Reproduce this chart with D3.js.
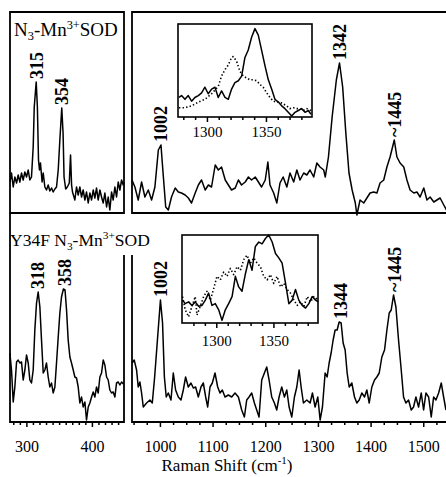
<!DOCTYPE html>
<html>
<head>
<script src="https://d3js.org/d3.v7.min.js"></script>
<style>
  body { margin: 0; background: #fff; }
  text { font-family: "Liberation Serif", "Times New Roman", serif; fill: #000; }
</style>
</head>
<body>
<svg id="chart"></svg>
<script>
// N3-Mn3+SOD, low frequency window
const wtLowShift = [275,277.3,279.9,282.4,285,287.5,290,292.6,295.1,297.7,300.2,302.8,305.3,307.8,310.4,312,315,316.8,318.5,320,321.5,324,325.7,328.2,330.7,333.3,335.8,338.4,340.9,343.5,346,348.6,351.1,354,356,357.5,360,362.5,365.5,367.4,369,370.4,374,376.5,379.1,381.6,384.2,386.7,389.3,391.8,394.4,396.9,399.5,402,404.5,407.1,409.6,412.2,414.7,417.3,419.8,422.4,424.9,427.4,430,432.5,435.1,437.6,440.2,442.7,445.3,447.8,449];
const wtLowInt   = [31,40,26,36,30,38,31,40,33,41,36,43,33,36,66,106,131,106,53,43,50,31,40,26,23,28,22,25,21,24,26,43,73,105,80,36,24,26,30,58,28,21,13,26,18,26,16,23,13,21,10,20,13,23,15,25,13,23,16,10,20,6,16,3,21,13,26,16,31,23,33,28,30];

// N3-Mn3+SOD, high frequency window
const wtHighShift = [947,952.5,958.8,965.2,971.5,977.9,984.2,990.5,997,1002,1006,1011,1016,1022,1029,1035,1041,1048,1054,1060,1067,1073,1079,1086,1092,1098,1105,1111,1117,1124,1130,1136,1143,1149,1155,1162,1168,1174,1181,1187,1193,1200,1205,1209,1216,1222,1228,1234,1241,1247,1254,1260,1266,1273,1279,1285,1292,1298,1304,1311,1314,1320,1327,1335,1341,1347,1353,1359,1365,1371,1374,1380,1387,1393,1399,1406,1412,1418,1425,1431,1437,1445,1450,1456,1463,1469,1475,1482,1488,1494,1501,1507,1513,1520,1526,1532,1539,1544];
const wtHighInt   = [33,26,13,31,16,23,13,26,63,68,40,6,3,16,25,21,20,18,15,10,20,28,33,23,28,26,48,43,46,33,28,23,25,33,28,31,36,33,36,31,26,33,51,28,20,10,30,36,26,40,31,43,33,40,38,43,36,50,46,43,36,56,96,133,150,126,80,40,23,10,-2,13,10,15,20,21,20,30,33,46,56,73,56,50,46,33,23,20,21,16,25,13,16,11,13,15,8,3];

// Y34F N3-Mn3+SOD, low frequency window
const mutLowShift = [274.8,277.3,279.9,282.4,285,287.5,290,292.6,295.1,297.7,300.2,302.8,305.3,307.8,310.4,312.9,315.5,318,320.6,323.1,325.7,328.2,330.7,333.3,335.8,338.4,340.9,343.5,346,348.6,351.1,353.6,356.5,359,361.3,363.8,366.4,368.9,371.5,374,376.5,379.1,381.6,384.2,386.7,389.3,391.8,394.4,396.9,399.5,402,404.5,407.1,409.6,412.2,414.7,417.3,419.8,422.4,424.9,427.4,430,432.5,435.1,437.6,440.2,442.7,445.3,448];
const mutLowInt   = [69,52,20,35,60,62,59,60,42,52,67,59,42,39,52,92,119,130,115,82,49,52,59,45,35,39,29,35,59,85,109,125,133,132,112,82,65,59,52,45,44,35,19,25,15,20,2,15,19,25,30,25,35,29,45,49,62,57,45,42,32,29,30,25,39,40,37,40,38];

// Y34F N3-Mn3+SOD, high frequency window
const mutHighShift = [947.4,951.2,955.7,958.8,962,965.2,968.4,974.7,981,985.5,990,996.7,1001,1005,1008.5,1012,1015.9,1021,1025.4,1029.8,1034.9,1040,1044.4,1048.8,1053.9,1059,1063.4,1067.8,1072.9,1078,1082.4,1086.9,1090.7,1095.1,1099.5,1104.6,1109.7,1114.1,1118.5,1123.6,1130,1136.3,1142.6,1149,1155.3,1160.4,1164.8,1169.2,1174.3,1179.4,1183.8,1188.2,1193.3,1198.4,1202.8,1207.3,1212.3,1217.4,1221.8,1226.3,1231.3,1236.4,1240.9,1245.3,1250.4,1255.4,1259.9,1264.3,1268.1,1272.5,1278.9,1285.2,1289.6,1294.7,1299.8,1304.2,1308.6,1313.7,1317.5,1321.3,1325.1,1328.9,1332.7,1336.5,1340.3,1344.1,1347.9,1351.7,1355.5,1359.4,1364.4,1369.5,1373.9,1378.4,1383.4,1388.5,1392.9,1397.4,1402.4,1407.5,1411.9,1416.4,1421.4,1426.5,1431,1435.4,1439.2,1443.6,1448.1,1453.1,1458.2,1462.6,1467.1,1472.1,1477.2,1481.6,1486.1,1491.1,1496.2,1500.7,1505.1,1510.2,1515.2,1519.7,1524.1,1529.2,1534.2,1538.7,1543.1];
const mutHighInt   = [59,62,52,35,40,29,15,19,22,19,45,92,122,99,45,25,29,22,49,32,25,22,32,45,35,39,34,35,25,35,39,25,15,35,39,49,35,29,32,25,27,25,29,25,12,5,22,25,29,19,12,5,42,49,55,42,25,19,12,25,35,25,32,15,5,25,35,52,35,19,22,19,29,15,25,2,15,49,45,59,69,82,92,92,100,99,79,72,49,35,39,25,19,22,29,25,32,19,35,42,45,49,65,72,92,109,112,127,115,82,52,25,19,22,12,15,25,15,29,12,29,25,5,25,22,29,39,25,12];

// insets, 1275-1390 cm-1 (solid and dotted traces)
const wtInsetShift = [1276.3,1278.5,1281.4,1284.2,1287,1289.8,1292.7,1295.5,1298.3,1301.1,1304,1306.8,1309.6,1312.4,1315.3,1318.1,1320.9,1323.7,1326.6,1329.4,1332.2,1335,1337.9,1340.7,1343.5,1346.3,1349.2,1352,1354.8,1357.6,1360.5,1363.3,1366.1,1368.9,1371.8,1374.6,1377.4,1380.2,1383.1,1385.9,1388.1];
const wtInsetSolid = [21,23,19,23,17,21,23,26,32,25,30,32,21,28,21,19,30,37,39,44,64,72,86,95,88,72,55,40,30,19,16,12,9,5,1,5,7,9,5,7,3];
const wtDotShift = [1276.3,1281.4,1287,1292.7,1298.3,1304,1309.6,1312.4,1315.3,1318.1,1320.9,1322.3,1325.1,1328,1330.8,1333.6,1336.4,1339.3,1342.1,1344.9,1347.7,1350.6,1353.4,1356.2,1359,1361.9,1364.7,1367.5,1370.3,1373.2,1376,1378.8,1381.6,1384.5,1388.1];
const wtInsetDot = [10,10,12,16,19,25,33,44,51,56,64,65,60,49,44,42,40,40,39,35,32,26,21,17,16,16,14,12,9,10,9,9,7,9,7];

const mutInsetShift = [1270.5,1272.8,1275.8,1278.7,1281.6,1284.5,1287.5,1290.4,1293.3,1296.2,1299.1,1302.1,1305,1307.9,1310.8,1313.8,1316.7,1319.6,1322.5,1325.5,1328.4,1331.3,1334.2,1337.2,1340.1,1343,1345.9,1348.9,1351.8,1354.7,1357.6,1360.6,1363.5,1366.4,1369.3,1372.2,1375.2,1378.1,1381,1383.9,1386.9,1389.2];
const mutInsetSolid = [26,22,24,20,24,19,20,26,34,20,22,15,3,15,22,30,53,41,36,56,72,60,87,92,90,96,100,92,79,74,68,45,22,26,38,26,20,17,22,30,26,24];
const mutDotShift = [1270.5,1272.8,1275.8,1278.7,1281.6,1283.1,1286,1288.9,1291.8,1294.8,1297.7,1300.6,1303.5,1306.5,1309.4,1312.3,1315.2,1318.2,1321.1,1324,1326.9,1329.9,1332.8,1335.7,1338.6,1341.5,1344.5,1347.4,1350.3,1353.2,1356.2,1359.1,1362,1364.9,1367.9,1370.8,1373.7,1376.6,1379.6,1382.5,1385.4,1389.2];
const mutInsetDot = [30,15,7,19,30,9,19,30,36,26,39,53,49,58,53,62,55,64,60,72,77,68,74,68,64,53,49,55,45,53,41,45,38,34,26,20,24,19,30,24,30,26];

// peak annotations
const wtLowLabels = ["315", "354"];
const wtHighLabels = ["1002", "1342", "~1445"];
const mutLowLabels = ["318", "358"];
const mutHighLabels = ["1002", "1344", "~1445"];

const lowTicks = [300, 400];
const highTicks = [1000, 1100, 1200, 1300, 1400, 1500];
const insetTicks = [1300, 1350];

const width = 446, height = 477;
const svg = d3.select("#chart").attr("width", width).attr("height", height);

const xLow = d3.scaleLinear().domain([275, 449]).range([10, 124]);
const xHigh = d3.scaleLinear().domain([947, 1547]).range([132, 448]);
const yTop = d3.scaleLinear().domain([0, 200]).range([213, 13]);
const yBot = d3.scaleLinear().domain([0, 200]).range([422, 222]);

const zip = (xs, ys) => xs.map((x, i) => [x, ys[i]]);

function trace(x, y, pts, dotted) {
  const line = d3.line().x(d => x(d[0])).y(d => y(d[1]));
  svg.append("path")
    .datum(pts)
    .attr("d", line)
    .attr("fill", "none")
    .attr("stroke", "#000")
    .attr("stroke-width", dotted ? 1.6 : 1.5)
    .attr("stroke-dasharray", dotted ? "1.4,2.2" : null)
    .attr("stroke-linejoin", "round");
}

function peakLabels(x, y, pts, labels) {
  labels.forEach(lab => {
    const v = +lab.replace("~", "");
    const near = pts.filter(d => Math.abs(d[0] - v) <= 5);
    const top = d3.max(near, d => d[1]);
    svg.append("text")
      .attr("transform", `translate(${x(v)},${y(top) - 3}) rotate(-90)`)
      .attr("dy", "0.35em")
      .attr("font-size", 18)
      .attr("font-weight", "bold")
      .text(lab);
  });
}

function bottomAxis(x, yPos, major, minor, textY, size) {
  const gMinor = svg.append("g").attr("transform", `translate(0,${yPos})`)
    .call(d3.axisBottom(x).tickValues(minor).tickSize(3).tickFormat(""));
  gMinor.select(".domain").remove();
  const g = svg.append("g").attr("transform", `translate(0,${yPos})`)
    .call(d3.axisBottom(x).tickValues(major).tickSize(5).tickFormat(d3.format("d")));
  g.select(".domain").remove();
  g.selectAll("text").attr("y", textY).attr("dy", 0)
    .attr("font-family", "Liberation Serif").attr("font-size", size).attr("fill", "#000");
  svg.selectAll(".tick line").attr("stroke", "#000").attr("stroke-width", 1.5);
}

// frames
const frame = (d) => svg.append("path").attr("d", d).attr("fill", "none")
  .attr("stroke", "#000").attr("stroke-width", 1.8);
frame("M10,12H124V213H10Z");
frame("M132,12H448V213H132Z");
frame("M10,213V422H124V255");
frame("M132,255V422H448");

// spectra
const wtLow = zip(wtLowShift, wtLowInt);
const wtHigh = zip(wtHighShift, wtHighInt);
const mutLow = zip(mutLowShift, mutLowInt);
const mutHigh = zip(mutHighShift, mutHighInt);
trace(xLow, yTop, wtLow);
trace(xHigh, yTop, wtHigh);
trace(xLow, yBot, mutLow);
trace(xHigh, yBot, mutHigh);

peakLabels(xLow, yTop, wtLow, wtLowLabels);
peakLabels(xHigh, yTop, wtHigh, wtHighLabels);
peakLabels(xLow, yBot, mutLow, mutLowLabels);
peakLabels(xHigh, yBot, mutHigh, mutHighLabels);

bottomAxis(xLow, 422, lowTicks, d3.range(280, 450, 10).filter(v => !lowTicks.includes(v)), 30, 16);
bottomAxis(xHigh, 422, highTicks, d3.range(950, 1550, 25).filter(v => !highTicks.includes(v)), 30, 16);

// insets
function inset(x0, x1, y0, y1, domain, solid, dot, shiftS, shiftD, labelY) {
  const x = d3.scaleLinear().domain(domain).range([x0, x1]);
  const y = d3.scaleLinear().domain([0, 100]).range([y1, y0]);
  svg.append("rect").attr("x", x0).attr("y", y0).attr("width", x1 - x0).attr("height", y1 - y0)
    .attr("fill", "#fff").attr("stroke", "#000").attr("stroke-width", 1.6);
  trace(x, y, zip(shiftD, dot), true);
  trace(x, y, zip(shiftS, solid), false);
  const minor = d3.range(1280, domain[1], 10).filter(v => !insetTicks.includes(v));
  bottomAxis(x, y1, insetTicks, minor, labelY - y1, 15);
}
inset(178, 312, 24, 117, [1275.5, 1389], wtInsetSolid, wtInsetDot, wtInsetShift, wtDotShift, 137);
inset(182, 318, 235, 323, [1270, 1389], mutInsetSolid, mutInsetDot, mutInsetShift, mutDotShift, 346);

// sample labels
function sampleLabel(x, y, prefix, size) {
  const small = size * 0.65;
  const t = svg.append("text").attr("x", x).attr("y", y).attr("font-size", size);
  t.append("tspan").text(prefix + "N");
  t.append("tspan").attr("font-size", small).attr("dy", 4).text("3");
  t.append("tspan").attr("dy", -4).text("-Mn");
  t.append("tspan").attr("font-size", small).attr("dy", -7).text("3+");
  t.append("tspan").attr("dy", 7).text("SOD");
}
sampleLabel(14, 36, "", 19);
sampleLabel(10, 246, "Y34F ", 17.5);

// axis title
const title = svg.append("text").attr("x", 227).attr("y", 471)
  .attr("text-anchor", "middle").attr("font-size", 17);
title.append("tspan").text("Raman Shift (cm");
title.append("tspan").attr("font-size", 11).attr("dy", -7).text("-1");
title.append("tspan").attr("dy", 7).text(")");
</script>
</body>
</html>
